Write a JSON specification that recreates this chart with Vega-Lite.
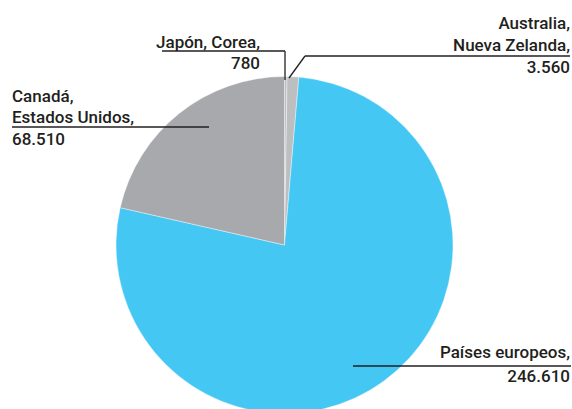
{
  "$schema": "https://vega.github.io/schema/vega-lite/v6.json",
  "autosize": "none",
  "width": 569,
  "height": 328,
  "padding": {"left": 0, "top": 81, "right": 3, "bottom": 0},
  "background": "white",
  "view": {"stroke": null},
  "layer": [
    {
      "data": {"values": [
        {"region": "Japón, Corea", "valor": 780, "orden": 1},
        {"region": "Australia, Nueva Zelanda", "valor": 3560, "orden": 2},
        {"region": "Países europeos", "valor": 246610, "orden": 3},
        {"region": "Canadá, Estados Unidos", "valor": 68510, "orden": 4}
      ]},
      "mark": {"type": "arc", "outerRadius": 168.5, "stroke": "#ffffff", "strokeWidth": 0.4},
      "encoding": {
        "theta": {"field": "valor", "type": "quantitative", "stack": true},
        "order": {"field": "orden", "type": "quantitative"},
        "color": {
          "field": "region", "type": "nominal", "legend": null,
          "scale": {
            "domain": ["Japón, Corea", "Australia, Nueva Zelanda", "Países europeos", "Canadá, Estados Unidos"],
            "range": ["#bcbec0", "#bcbec0", "#45c7f4", "#a7a9ac"]
          }
        }
      }
    },
    {
      "data": {"values": [
        {"x": 162, "y": 51, "x2": 285, "y2": 51},
        {"x": 285, "y": 51, "x2": 285, "y2": 80},
        {"x": 305, "y": 56, "x2": 570, "y2": 56},
        {"x": 305, "y": 56, "x2": 289, "y2": 78},
        {"x": 12, "y": 127, "x2": 209, "y2": 127},
        {"x": 353, "y": 366, "x2": 571, "y2": 366}
      ]},
      "mark": {"type": "rule", "color": "#231f20", "strokeWidth": 1.3},
      "encoding": {
        "x": {"field": "x", "type": "quantitative", "axis": null, "scale": {"domain": [0, 569], "nice": false, "zero": false}},
        "y": {"field": "y", "type": "quantitative", "axis": null, "scale": {"domain": [81, 409], "reverse": true, "nice": false, "zero": false}},
        "x2": {"field": "x2"},
        "y2": {"field": "y2"}
      }
    },
    {
      "data": {"values": [
        {"t": "Japón, Corea,", "x": 260, "y": 48},
        {"t": "780", "x": 260, "y": 69},
        {"t": "Australia,", "x": 570, "y": 29},
        {"t": "Nueva Zelanda,", "x": 570, "y": 51},
        {"t": "3.560", "x": 570, "y": 73},
        {"t": "Países europeos,", "x": 570, "y": 358},
        {"t": "246.610", "x": 570, "y": 382}
      ]},
      "mark": {"type": "text", "align": "right", "baseline": "alphabetic", "font": "Roboto", "fontSize": 17, "fontWeight": 500, "color": "#231f20"},
      "encoding": {
        "x": {"field": "x", "type": "quantitative"},
        "y": {"field": "y", "type": "quantitative"},
        "text": {"field": "t"}
      }
    },
    {
      "data": {"values": [
        {"t": "Canadá,", "x": 12, "y": 102},
        {"t": "Estados Unidos,", "x": 12, "y": 123},
        {"t": "68.510", "x": 12, "y": 145}
      ]},
      "mark": {"type": "text", "align": "left", "baseline": "alphabetic", "font": "Roboto", "fontSize": 17, "fontWeight": 500, "color": "#231f20"},
      "encoding": {
        "x": {"field": "x", "type": "quantitative"},
        "y": {"field": "y", "type": "quantitative"},
        "text": {"field": "t"}
      }
    }
  ]
}
